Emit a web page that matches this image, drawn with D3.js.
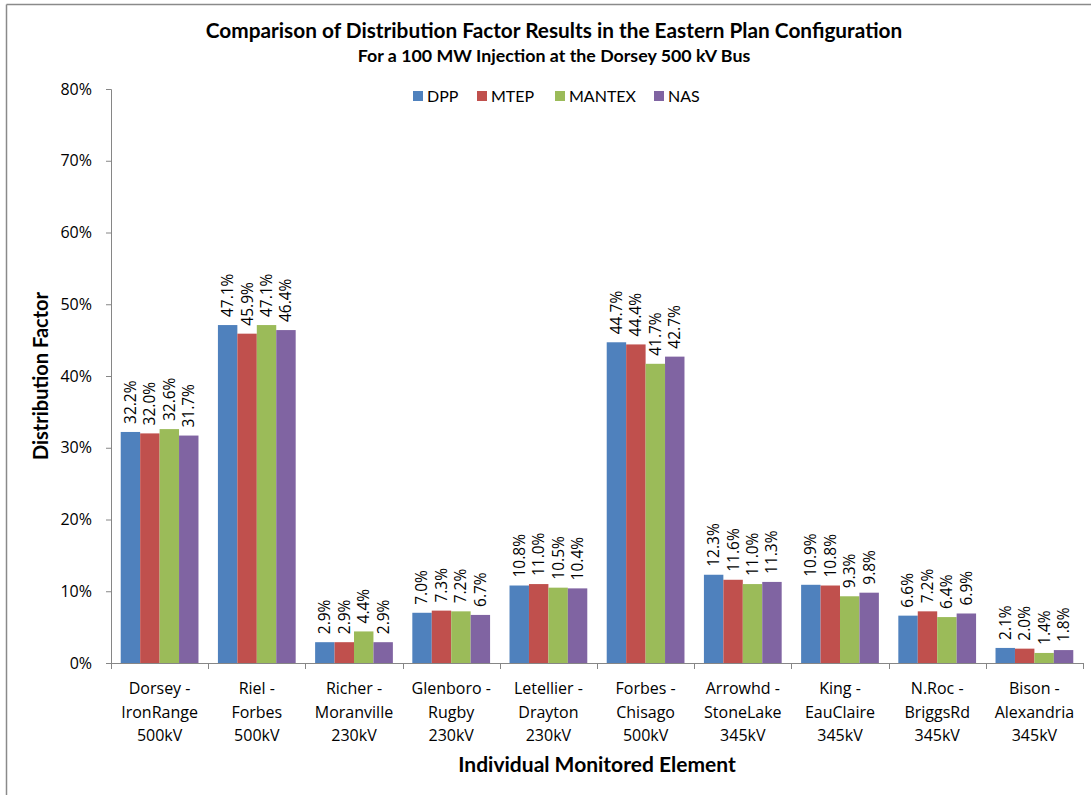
<!DOCTYPE html>
<html>
<head>
<meta charset="utf-8">
<script src="https://cdn.jsdelivr.net/npm/d3@7"></script>
<style>
  html, body { margin: 0; padding: 0; background: #fff; }
  svg { display: block; font-family: Lato, "Open Sans", sans-serif; }
</style>
</head>
<body>
<svg id="chart" width="1091" height="795"></svg>
<script>
const categories = [
  ["Dorsey -", "IronRange", "500kV"],
  ["Riel -", "Forbes", "500kV"],
  ["Richer -", "Moranville", "230kV"],
  ["Glenboro -", "Rugby", "230kV"],
  ["Letellier -", "Drayton", "230kV"],
  ["Forbes -", "Chisago", "500kV"],
  ["Arrowhd -", "StoneLake", "345kV"],
  ["King -", "EauClaire", "345kV"],
  ["N.Roc -", "BriggsRd", "345kV"],
  ["Bison -", "Alexandria", "345kV"]
];
const seriesNames = ["DPP", "MTEP", "MANTEX", "NAS"];
const dpp    = [32.2, 47.1, 2.9, 7.0, 10.8, 44.7, 12.3, 10.9, 6.6, 2.1];
const mtep   = [32.0, 45.9, 2.9, 7.3, 11.0, 44.4, 11.6, 10.8, 7.2, 2.0];
const mantex = [32.6, 47.1, 4.4, 7.2, 10.5, 41.7, 11.0, 9.3, 6.4, 1.4];
const nas    = [31.7, 46.4, 2.9, 6.7, 10.4, 42.7, 11.3, 9.8, 6.9, 1.8];
const yTicks = [0, 10, 20, 30, 40, 50, 60, 70, 80];
const colors = ["#4F81BD", "#C0504D", "#9BBB59", "#8064A2"];

const seriesValues = [dpp, mtep, mantex, nas];
const svg = d3.select("#chart");
const bodyFont = '"Open Sans", Lato, sans-serif';

// chart border (top & left visible)
svg.append("line").attr("x1", 6.5).attr("x2", 1091).attr("y1", 4.5).attr("y2", 4.5)
  .attr("stroke", "#8a8a8a").attr("stroke-width", 1.5);
svg.append("line").attr("x1", 6.5).attr("x2", 6.5).attr("y1", 4.5).attr("y2", 795)
  .attr("stroke", "#8a8a8a").attr("stroke-width", 1.5);

const pLeft = 111, pRight = 1083, pTop = 89, pBottom = 663;
const catIdx = categories.map((d, i) => i);
const x = d3.scaleBand().domain(catIdx).range([pLeft, pRight]).paddingInner(0).paddingOuter(0);
const xs = d3.scaleBand().domain(d3.range(seriesNames.length)).range([0, x.bandwidth()])
  .paddingInner(0).paddingOuter(0.5);
const y = d3.scaleLinear().domain([0, 80]).range([pBottom, pTop]);

// Titles
svg.append("text").attr("x", 554).attr("y", 38).attr("text-anchor", "middle")
  .attr("font-weight", "bold").attr("font-size", 20.8).attr("fill", "#000")
  .text("Comparison of Distribution Factor Results in the Eastern Plan Configuration");
svg.append("text").attr("x", 554).attr("y", 62).attr("text-anchor", "middle")
  .attr("font-weight", "bold").attr("font-size", 17.8).attr("fill", "#000")
  .text("For a 100 MW Injection at the Dorsey 500 kV Bus");

// Y axis
const yAxis = d3.axisLeft(y).tickValues(yTicks).tickSize(5).tickPadding(14)
  .tickFormat(d => d + "%");
const gy = svg.append("g").attr("transform", `translate(${pLeft},0)`).call(yAxis);
gy.select(".domain").attr("stroke", "#868686");
gy.selectAll(".tick line").attr("stroke", "#868686");
gy.selectAll(".tick text").attr("font-size", 16).attr("fill", "#000")
  .attr("font-family", bodyFont);

// X axis line & ticks at category boundaries
const gx = svg.append("g");
gx.append("line").attr("x1", pLeft).attr("x2", pRight).attr("y1", pBottom + 0.5).attr("y2", pBottom + 0.5)
  .attr("stroke", "#868686");
const boundaries = catIdx.map(i => x(i)).concat([x(catIdx[catIdx.length - 1]) + x.bandwidth()]);
gx.selectAll("line.tk").data(boundaries).enter().append("line").attr("class", "tk")
  .attr("x1", d => Math.round(d) + 0.5).attr("x2", d => Math.round(d) + 0.5)
  .attr("y1", pBottom).attr("y2", pBottom + 6).attr("stroke", "#868686");

// Category labels
const catG = svg.append("g");
categories.forEach((lines, i) => {
  const t = catG.append("text").attr("text-anchor", "middle").attr("font-size", 16)
    .attr("font-family", bodyFont).attr("fill", "#000");
  lines.forEach((ln, j) => {
    t.append("tspan").attr("x", x(i) + x.bandwidth() / 2).attr("y", 694 + j * 23.7).text(ln);
  });
});

// Bars
seriesValues.forEach((vals, s) => {
  const g = svg.append("g");
  g.selectAll("rect").data(vals).enter().append("rect")
    .attr("x", (d, i) => x(i) + xs(s))
    .attr("y", d => y(d))
    .attr("width", xs.bandwidth())
    .attr("height", d => y(0) - y(d))
    .attr("fill", colors[s]);
  g.selectAll("text").data(vals).enter().append("text")
    .attr("transform", (d, i) => `translate(${x(i) + xs(s) + xs.bandwidth() / 2},${y(d) - 8}) rotate(-90)`)
    .attr("dy", "0.35em").attr("text-anchor", "start")
    .attr("font-size", 15.5).attr("font-family", bodyFont).attr("fill", "#000")
    .text(d => d.toFixed(1) + "%");
});

// Legend
const legendX = [413, 477, 555, 654];
seriesNames.forEach((name, s) => {
  svg.append("rect").attr("x", legendX[s]).attr("y", 91).attr("width", 10).attr("height", 10)
    .attr("fill", colors[s]);
  svg.append("text").attr("x", legendX[s] + 14).attr("y", 101.5).attr("font-size", 16)
    .attr("fill", "#000").text(name);
});

// Axis titles
svg.append("text").attr("transform", "translate(48,376) rotate(-90)").attr("text-anchor", "middle")
  .attr("font-weight", "bold").attr("font-size", 20).attr("fill", "#000").text("Distribution Factor");
svg.append("text").attr("x", 597).attr("y", 772).attr("text-anchor", "middle")
  .attr("font-weight", "bold").attr("font-size", 21).attr("fill", "#000").text("Individual Monitored Element");
</script>
</body>
</html>
